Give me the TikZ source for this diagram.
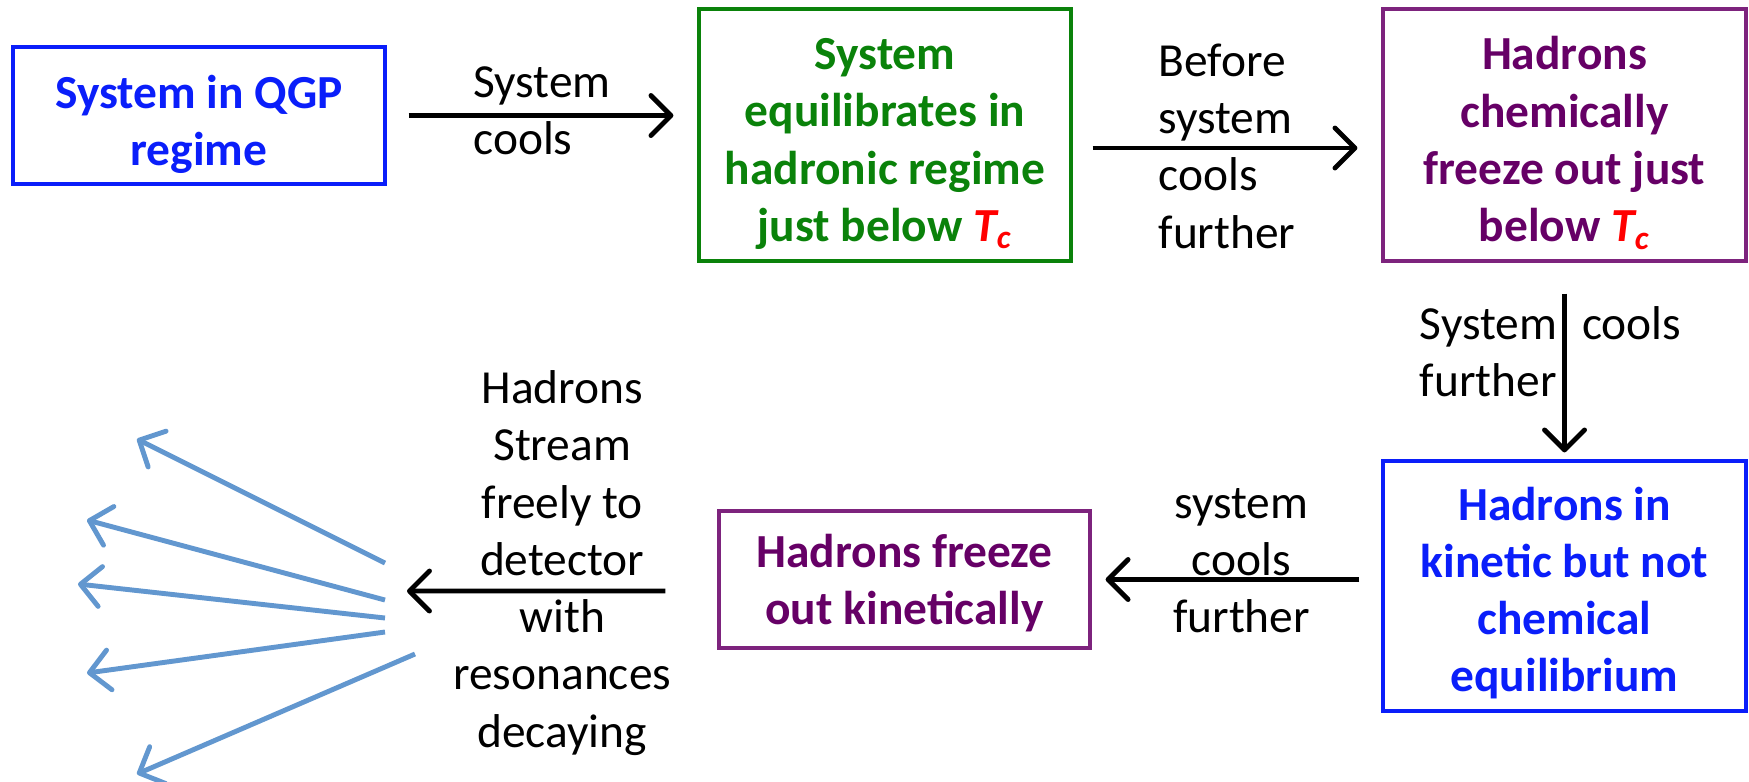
\documentclass[tikz,border=0pt]{standalone}
\usepackage{fontspec}
\setmainfont{Carlito}
\usetikzlibrary{arrows.meta}

\definecolor{qgpblue}{RGB}{10,30,250}
\definecolor{eqgreen}{RGB}{10,130,10}
\definecolor{frzpurple}{RGB}{102,0,102}
\definecolor{frzline}{RGB}{125,35,125}
\definecolor{sprayblue}{RGB}{98,151,207}
\newcommand{\Tc}{\textcolor{red}{\textit{T\textsubscript{c}}}}
% invisible strut that pushes the first line of a box down
\newcommand{\topgap}[1]{\rule{0pt}{#1}}

\begin{document}
\begin{tikzpicture}[x=0.1mm,y=-0.1mm,
        font=\fontsize{13.5}{16.3}\selectfont,
        stage/.style={draw,line width=0.9pt,align=center,inner sep=0pt,
            font=\fontsize{13.5}{16.3}\selectfont\bfseries},
        flow/.style={line width=1.4pt,-{Straight Barb[length=2mm,width=4mm,round]}},
        spray/.style={sprayblue,line width=1.4pt,-{Straight Barb[length=2mm,width=4mm,round]}},
        lbl/.style={inner sep=0.5mm}]
        \useasboundingbox (0,0) rectangle (1749,781);

        % the stages of the fireball
        \node[stage,qgpblue,minimum width=37.2mm,minimum height=13.7mm] (qgp) at (199,115.5) {\topgap{14.4pt}System in QGP\\regime};
        \node[stage,draw=eqgreen,text=eqgreen,minimum width=37.2mm,minimum height=25.2mm] (equil) at (885,135) {\topgap{13.9pt}System\\equilibrates in\\hadronic regime\\just below \Tc};
        \node[stage,draw=frzline,text=frzpurple,minimum width=36.3mm,minimum height=25.2mm] (chem) at (1564.5,135) {\topgap{14pt}Hadrons\\chemically\\freeze out just\\below \Tc};
        \node[stage,qgpblue,minimum width=36.3mm,minimum height=25mm] (kin) at (1564.5,586) {\topgap{13.5pt}Hadrons in\\kinetic but not\\chemical\\equilibrium};
        \node[stage,draw=frzline,text=frzpurple,minimum width=37.1mm,minimum height=13.7mm] (kfo) at (904.5,579.5) {\topgap{11.3pt}Hadrons freeze\\out kinetically};

        % cooling arrows
        \draw[flow,shorten <=2.2mm,shorten >=2.4mm] (qgp.east) -- (qgp.east -| equil.west)
            node[lbl,midway,align=left,yshift=0.5mm] {System\\cools};
        \draw[flow,shorten <=2mm,shorten >=2.4mm] ([yshift=-1.3mm]equil.east) -- ([yshift=-1.3mm]chem.west)
            node[lbl,midway,align=left,yshift=0.2mm] {Before\\system\\cools\\further};
        \draw[flow,shorten <=3.1mm,shorten >=0.7mm] (chem.south) -- (kin.north)
            node[lbl,midway,left,align=left,yshift=0.8mm] (sysfur) {System\\further};
        \node[lbl,anchor=north west] (coolsr) at ([xshift=1.2mm]sysfur.north east) {cools};
        \draw[flow,shorten <=2.2mm,shorten >=1.4mm] (kin.west |- kfo.east) -- (kfo.east)
            node[lbl,midway,align=center,xshift=0.5mm,yshift=1.9mm] {system\\cools\\further};

        % out to the detector
        \coordinate (burst) at (407,591);
        \draw[flow,shorten <=5.2mm] ([yshift=-1.15mm]kfo.west) -- (burst)
            node[lbl,midway,align=center,yshift=2.8mm] {Hadrons\\Stream\\freely to\\detector\\with\\resonances\\decaying};
        \foreach \sx/\sy/\ex/\ey in {385/563/137/439, 385/600/87/520, 385/618/78/584, 385/632/87/673, 415/654/137/774}
            \draw[spray] (\sx,\sy) -- (\ex,\ey);
\end{tikzpicture}
\end{document}
